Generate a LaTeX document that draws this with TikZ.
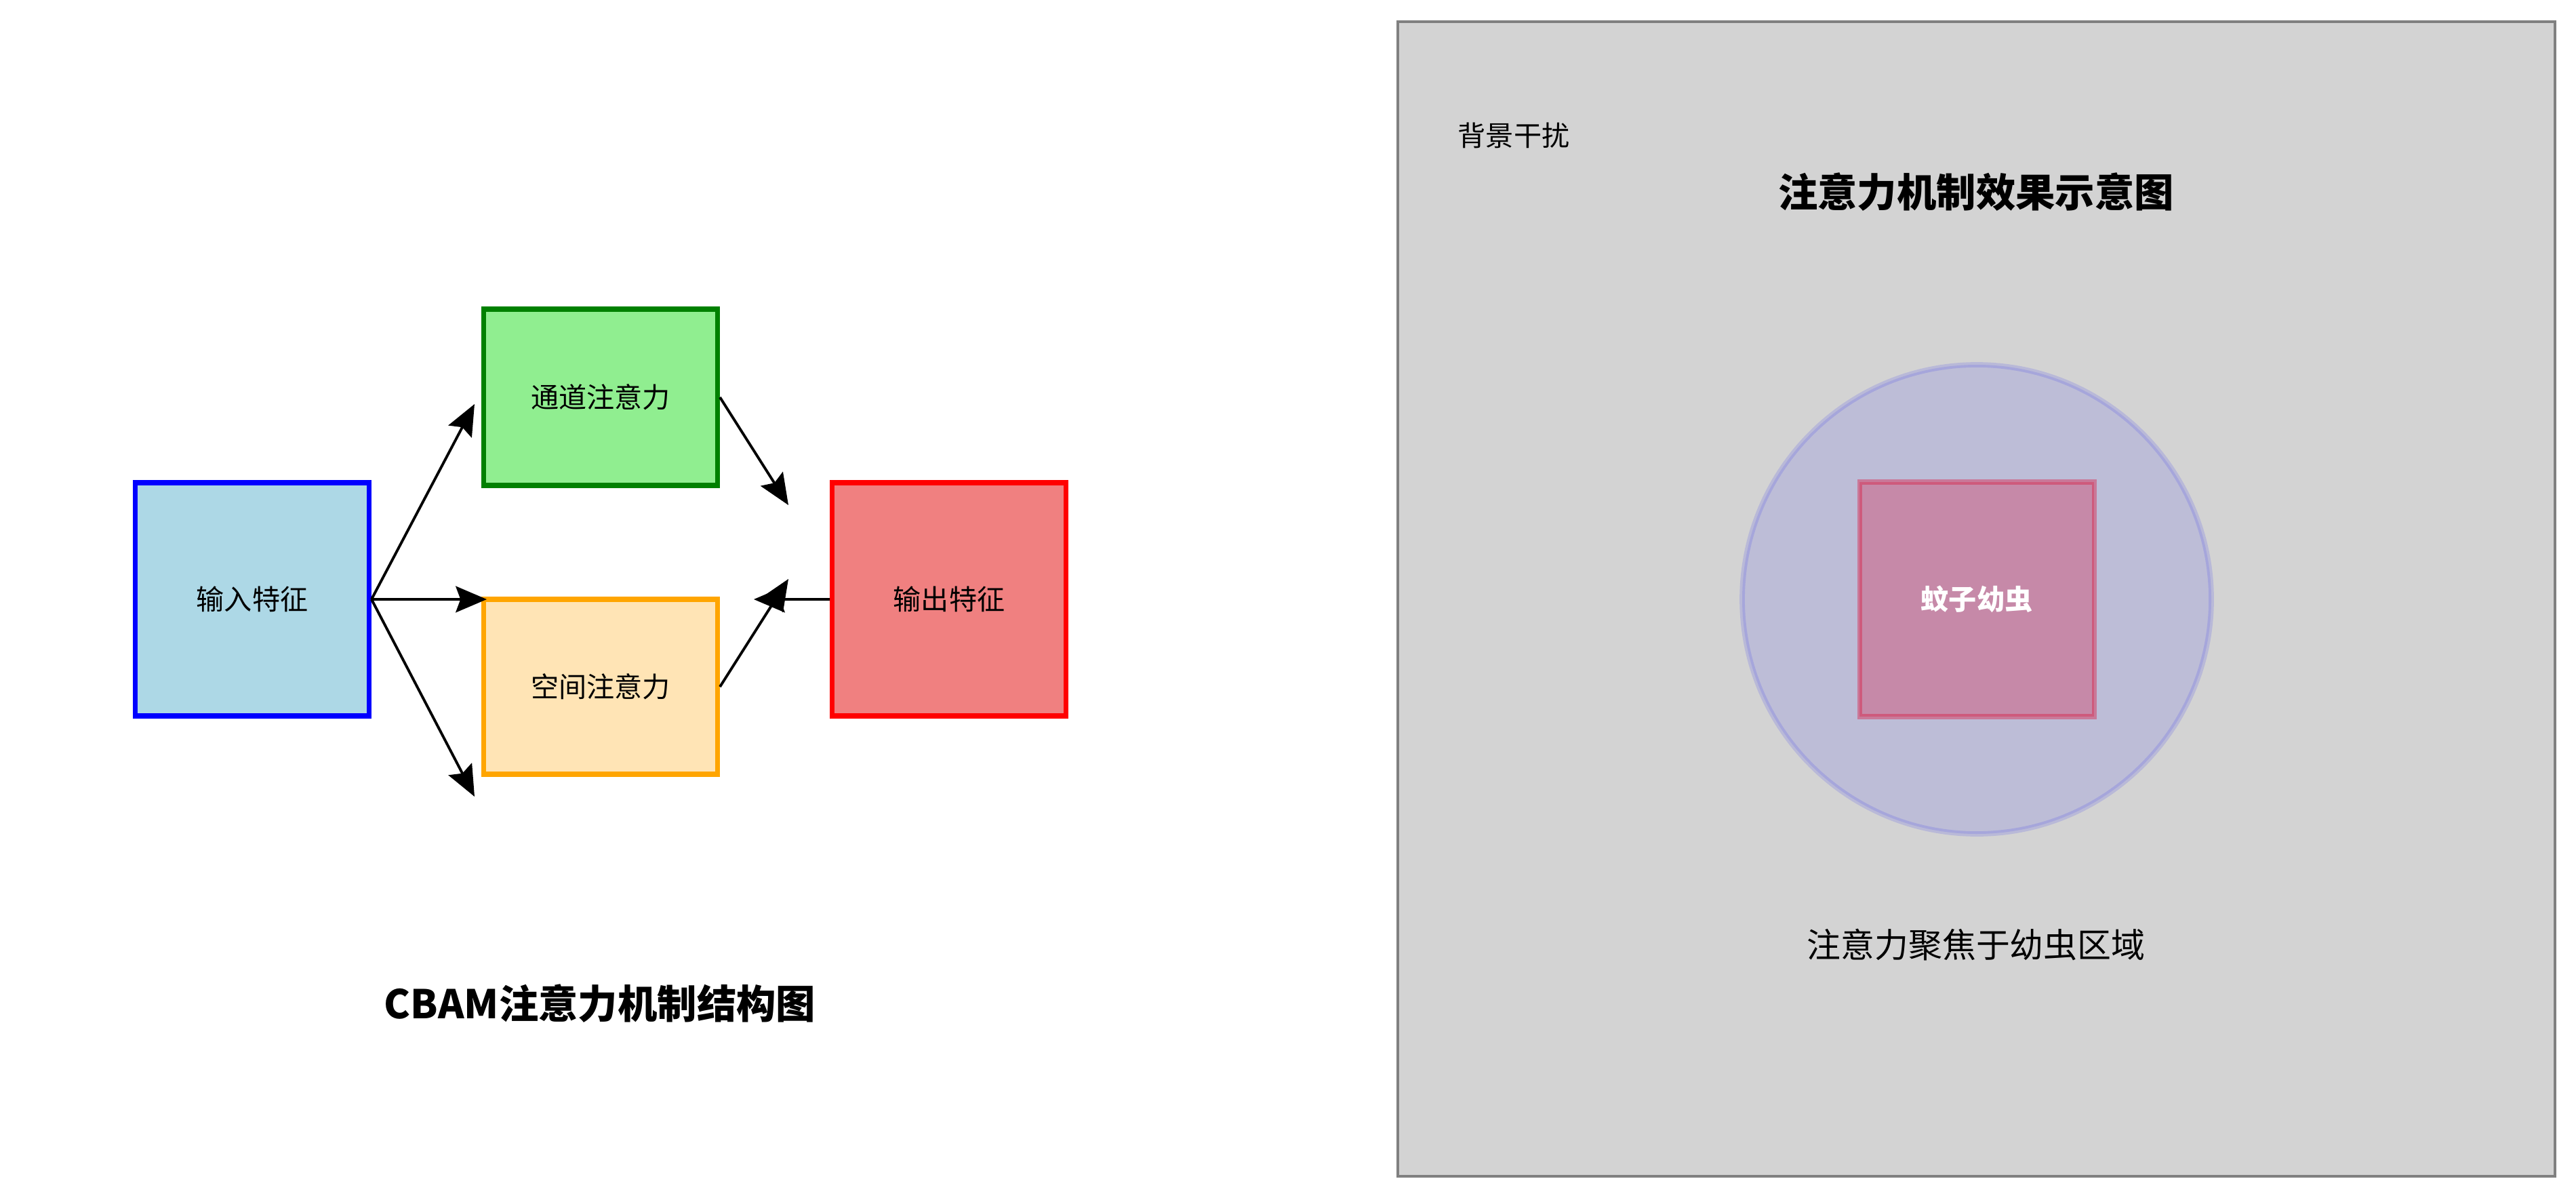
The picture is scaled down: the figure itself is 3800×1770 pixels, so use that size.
\documentclass[tikz,border=0pt]{standalone}
\usepackage{fontspec}
\setmainfont{Noto Sans CJK SC}
\usetikzlibrary{arrows.meta}
\definecolor{boxblue}{RGB}{173,216,230}
\definecolor{boxgreen}{RGB}{144,238,144}
\definecolor{darkgreen}{RGB}{0,128,0}
\definecolor{boxorange}{RGB}{255,228,181}
\definecolor{edgeorange}{RGB}{255,165,0}
\definecolor{boxcoral}{RGB}{240,128,128}
\definecolor{panelgray}{RGB}{211,211,211}
\definecolor{paneledge}{RGB}{128,128,128}
\definecolor{larvared}{RGB}{220,20,60}
\tikzset{
  blockbox/.style={draw, line width=2pt, minimum width=345*0.01cm, inner sep=0pt,
    font=\fontsize{11.7pt}{14pt}\selectfont},
  flowarrow/.style={line width=1.1pt, -{Stealth[length=13pt,width=11pt,inset=2pt]}},
  bigtitle/.style={font=\fontsize{16.6pt}{19pt}\selectfont\bfseries},
}
\begin{document}
\begin{tikzpicture}[x=0.01cm,y=-0.01cm]
\useasboundingbox (0,0) rectangle (3800,1770);
% left diagram
\node[blockbox, fill=boxblue, draw=blue, minimum height=344*0.01cm] (inp) at (372,884) {输入特征};
\node[blockbox, fill=boxgreen, draw=darkgreen, minimum height=260*0.01cm] (chan) at (886,586) {通道注意力};
\node[blockbox, fill=boxorange, draw=edgeorange, minimum height=258*0.01cm] (spat) at (886,1013) {空间注意力};
\node[blockbox, fill=boxcoral, draw=red, minimum height=344*0.01cm] (outp) at (1400,884) {输出特征};
\coordinate (t1) at (700,596);
\coordinate (t2) at (718,884);
\coordinate (t3) at (700,1175);
\coordinate (t4) at (1163,745);
\coordinate (t5) at (1163,854);
\coordinate (t6) at (1112,884);
\draw[flowarrow] (inp.east) -- (t1);
\draw[flowarrow] (inp.east) -- (t2);
\draw[flowarrow] (inp.east) -- (t3);
\draw[flowarrow] (chan.east) -- (t4);
\draw[flowarrow] (spat.east) -- (t5);
\draw[flowarrow] (outp.west) -- (t6);
\node[bigtitle] (ltitle) at (885,1480) {CBAM注意力机制结构图};
% right panel
\node[draw=paneledge, fill=panelgray, line width=0.9pt, minimum width=1707*0.01cm, minimum height=1703*0.01cm, inner sep=0pt] (panel) at (2915.5,883.5) {};
\node[font=\fontsize{11.7pt}{14pt}\selectfont] (bg) at (2233,200) {背景干扰};
\node[bigtitle] (rtitle) at (2915,283) {注意力机制效果示意图};
\node[circle, minimum size=692*0.01cm, inner sep=0pt, fill=blue, fill opacity=0.1, draw=blue, draw opacity=0.12, line width=2.2pt] (focus) at (2916,884) {};
\node[fill=larvared, fill opacity=0.3, draw=larvared, draw opacity=0.4, line width=2pt, minimum width=346*0.01cm, minimum height=346*0.01cm, inner sep=0pt] (larva) at (2916,884) {};
\node[text=white, font=\fontsize{11.7pt}{14pt}\selectfont\bfseries] (larvatext) at (2916,884) {蚊子幼虫};
\node[font=\fontsize{14.2pt}{17pt}\selectfont] (caption) at (2915,1394) {注意力聚焦于幼虫区域};
\end{tikzpicture}
\end{document}
